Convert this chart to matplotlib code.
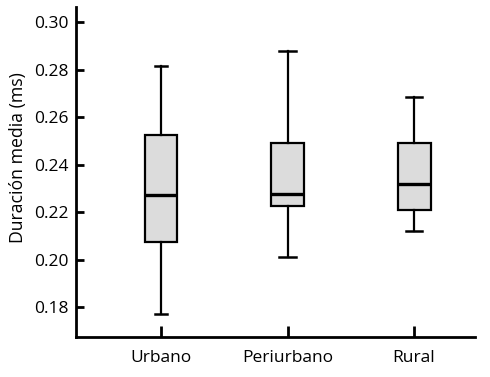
import matplotlib
matplotlib.use("Agg")
import matplotlib.pyplot as plt

categories = ["Urbano", "Periurbano", "Rural"]
whislo = [0.177, 0.201, 0.212]
q1 = [0.2075, 0.2225, 0.2207]
med = [0.2272, 0.2277, 0.2320]
q3 = [0.2525, 0.2493, 0.2493]
whishi = [0.2816, 0.2878, 0.2685]
yticks = [0.18, 0.20, 0.22, 0.24, 0.26, 0.28, 0.30]

plt.rcParams['font.family'] = ['Open Sans', 'DejaVu Sans']

fig = plt.figure(figsize=(4.9, 3.77), dpi=100)
ax = fig.add_axes([0.155, 0.106, 0.814, 0.875])

stats = []
for i, c in enumerate(categories):
    stats.append(dict(label=c, whislo=whislo[i], q1=q1[i], med=med[i], q3=q3[i], whishi=whishi[i], fliers=[]))

ax.bxp(stats, positions=range(len(categories)), widths=0.26, patch_artist=True,
       showfliers=False,
       boxprops=dict(facecolor="#dcdcdc", edgecolor="black", linewidth=1.6),
       medianprops=dict(color="black", linewidth=2.4),
       whiskerprops=dict(color="black", linewidth=1.6),
       capprops=dict(color="black", linewidth=1.8),
       capwidths=[0.09, 0.13, 0.13])

ax.set_xlim(-0.672, 2.48)
ax.set_ylim(0.1674, 0.3063)
ax.set_yticks(yticks)
ax.set_yticklabels([f"{v:.2f}" for v in yticks])
ax.set_xticks(range(len(categories)))
ax.set_xticklabels(categories)

for s in ["top", "right"]:
    ax.spines[s].set_visible(False)
for s in ["left", "bottom"]:
    ax.spines[s].set_linewidth(2)

ax.tick_params(axis="y", direction="in", length=6, width=2, labelsize=12.5, pad=5)
ax.tick_params(axis="x", direction="in", length=8, width=2, labelsize=12.5, pad=9)
ax.set_ylabel("Duración media (ms)", fontsize=12.7)
ax.yaxis.set_label_coords(-0.123, 0.545)

fig.savefig("out.png", dpi=100)
